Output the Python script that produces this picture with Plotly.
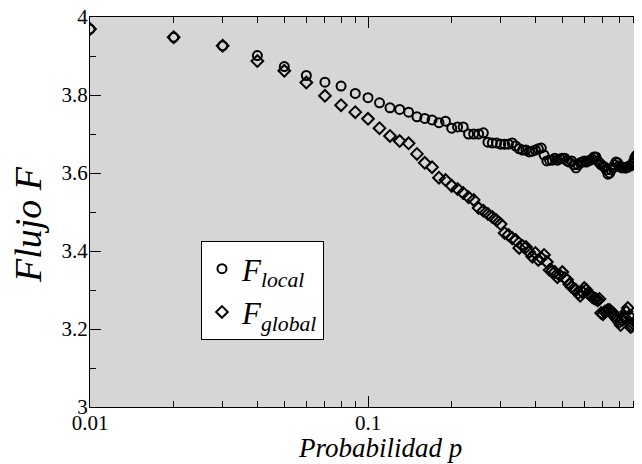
import plotly.graph_objects as go

# Sampling probabilities p
p = [0.01, 0.02, 0.03, 0.04, 0.05, 0.06, 0.07, 0.08, 0.09, 0.10,
     0.11, 0.12, 0.13, 0.14, 0.15, 0.16, 0.17, 0.18, 0.19, 0.20,
     0.21, 0.22, 0.23, 0.24, 0.25, 0.26, 0.27, 0.28, 0.29, 0.30,
     0.31, 0.32, 0.33, 0.34, 0.35, 0.36, 0.37, 0.38, 0.39, 0.40,
     0.41, 0.42, 0.43, 0.44, 0.45, 0.46, 0.47, 0.48, 0.49, 0.50,
     0.51, 0.52, 0.53, 0.54, 0.55, 0.56, 0.57, 0.58, 0.59, 0.60,
     0.61, 0.62, 0.63, 0.64, 0.65, 0.66, 0.67, 0.68, 0.69, 0.70,
     0.71, 0.72, 0.73, 0.74, 0.75, 0.76, 0.77, 0.78, 0.79, 0.80,
     0.81, 0.82, 0.83, 0.84, 0.85, 0.86, 0.87, 0.88, 0.89, 0.90,
     0.91, 0.92, 0.93, 0.94, 0.95, 0.96, 0.97, 0.98]

F_local = [3.969, 3.948, 3.926, 3.901, 3.873, 3.850, 3.833, 3.823, 3.804, 3.793,
           3.780, 3.767, 3.763, 3.756, 3.744, 3.740, 3.736, 3.729, 3.733, 3.715,
           3.718, 3.718, 3.700, 3.700, 3.700, 3.703, 3.679, 3.677, 3.677, 3.674,
           3.674, 3.674, 3.677, 3.669, 3.662, 3.659, 3.659, 3.654, 3.656, 3.659,
           3.662, 3.664, 3.646, 3.631, 3.633, 3.633, 3.638, 3.633, 3.636, 3.638,
           3.638, 3.631, 3.628, 3.631, 3.621, 3.613, 3.621, 3.626, 3.628, 3.631,
           3.628, 3.631, 3.633, 3.636, 3.641, 3.641, 3.631, 3.626, 3.621, 3.618,
           3.615, 3.608, 3.597, 3.600, 3.608, 3.613, 3.621, 3.628, 3.626, 3.618,
           3.615, 3.613, 3.615, 3.613, 3.613, 3.615, 3.618, 3.618, 3.623, 3.628,
           3.638, 3.644, 3.646, 3.633, 3.644, 3.640, 3.636, 3.642]

F_global = [3.969, 3.948, 3.926, 3.887, 3.862, 3.832, 3.798, 3.774, 3.756, 3.739,
            3.715, 3.695, 3.682, 3.676, 3.649, 3.626, 3.615, 3.588, 3.582, 3.567,
            3.559, 3.549, 3.538, 3.531, 3.510, 3.503, 3.495, 3.487, 3.479, 3.469,
            3.446, 3.441, 3.433, 3.428, 3.408, 3.413, 3.410, 3.397, 3.385, 3.395,
            3.377, 3.382, 3.390, 3.372, 3.351, 3.349, 3.346, 3.333, 3.338, 3.346,
            3.331, 3.326, 3.315, 3.308, 3.303, 3.300, 3.292, 3.285, 3.295, 3.305,
            3.300, 3.292, 3.287, 3.282, 3.279, 3.277, 3.274, 3.277, 3.241, 3.238,
            3.244, 3.246, 3.249, 3.249, 3.244, 3.241, 3.233, 3.228, 3.223, 3.218,
            3.210, 3.223, 3.231, 3.228, 3.244, 3.254, 3.233, 3.205, 3.208, 3.213,
            3.218, 3.215, 3.218, 3.210, 3.218, 3.223, 3.215, 3.220]

x_major = [0.01, 0.1]
x_major_text = ["0.01", "0.1"]
x_minor = [0.02, 0.03, 0.04, 0.05, 0.06, 0.07, 0.08, 0.09,
           0.2, 0.3, 0.4, 0.5, 0.6, 0.7, 0.8, 0.9]
y_major = [3, 3.2, 3.4, 3.6, 3.8, 4]
y_major_text = ["3", "3.2", "3.4", "3.6", "3.8", "4"]

SERIF = "Liberation Serif"

fig = go.Figure()
fig.add_trace(go.Scatter(
    x=p, y=F_local, mode="markers",
    name="<i>F</i><sub><i>local</i></sub>",
    marker=dict(symbol="circle-open", size=9, color="black", line=dict(width=2, color="black")),
))
fig.add_trace(go.Scatter(
    x=p, y=F_global, mode="markers",
    name="<i>F</i><sub><i>global</i></sub>",
    marker=dict(symbol="diamond-open", size=9, color="black", line=dict(width=2, color="black")),
))

fig.update_layout(
    width=642, height=464,
    margin=dict(l=82, r=4, t=9, b=65, autoexpand=False),
    paper_bgcolor="white",
    plot_bgcolor="#d6d6d6",
    font=dict(family=SERIF, color="black", size=21),
    showlegend=True,
    legend=dict(
        x=0.1996, y=0.4256, xanchor="left", yanchor="top",
        bgcolor="white", bordercolor="black", borderwidth=1,
        font=dict(family=SERIF, size=31, color="black"),
        itemwidth=30, tracegroupgap=0,
    ),
    xaxis=dict(
        type="log", range=[-2, 0], automargin=False,
        showgrid=False, zeroline=False,
        showline=True, linecolor="black", linewidth=1, mirror="ticks",
        ticks="inside", ticklen=11, tickwidth=1, tickcolor="black",
        tickvals=x_major, ticktext=x_major_text,
        tickfont=dict(family=SERIF, size=21, color="black"),
        ticklabeloverflow="allow", ticklabelstandoff=-3,
        minor=dict(ticks="inside", ticklen=6, tickwidth=1, tickcolor="black",
                   tickvals=x_minor, showgrid=False),
    ),
    yaxis=dict(
        range=[3, 4], automargin=False,
        showgrid=False, zeroline=False,
        showline=True, linecolor="black", linewidth=1, mirror="ticks",
        ticks="inside", ticklen=11, tickwidth=1, tickcolor="black",
        tickvals=y_major, ticktext=y_major_text,
        tickfont=dict(family=SERIF, size=21, color="black"),
        ticklabeloverflow="allow", ticklabelstandoff=-3,
        minor=dict(ticks="inside", ticklen=6, tickwidth=1, tickcolor="black",
                   dtick=0.1, showgrid=False),
    ),
    annotations=[
        dict(text="<i>Flujo F</i>", xref="paper", yref="paper",
             x=-0.1115, y=0.4667, xanchor="center", yanchor="middle",
             textangle=-90, showarrow=False,
             font=dict(family=SERIF, size=38, color="black")),
        dict(text="<i>Probabilidad p</i>", xref="paper", yref="paper",
             x=0.5216, y=-0.105, xanchor="center", yanchor="middle",
             showarrow=False,
             font=dict(family=SERIF, size=27, color="black")),
    ],
)

fig.write_html("out.html")
